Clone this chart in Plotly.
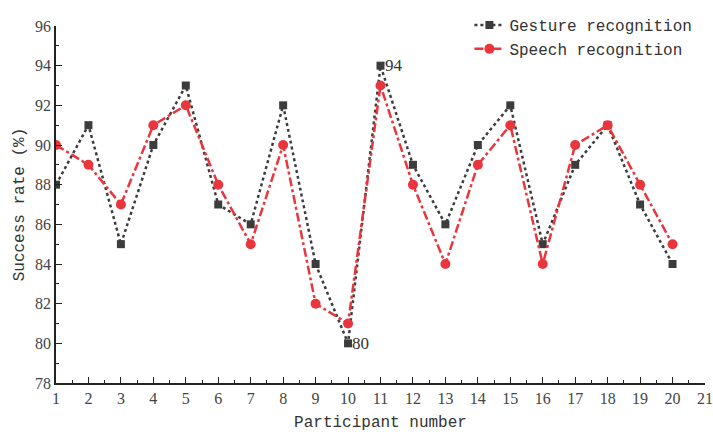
import plotly.graph_objects as go

participants = list(range(1, 21))
gesture = [88, 91, 85, 90, 93, 87, 86, 92, 84, 80, 94, 89, 86, 90, 92, 85, 89, 91, 87, 84]
speech = [90, 89, 87, 91, 92, 88, 85, 90, 82, 81, 93, 88, 84, 89, 91, 84, 90, 91, 88, 85]

fig = go.Figure()
fig.add_trace(go.Scatter(x=participants, y=gesture, name="Gesture recognition",
                         mode="lines+markers",
                         line=dict(color="#3c3c3c", width=2.5, dash="dot"),
                         marker=dict(symbol="square", size=8, color="#3c3c3c")))
fig.add_trace(go.Scatter(x=participants, y=speech, name="Speech recognition",
                         mode="lines+markers",
                         line=dict(color="#e8363c", width=2.5, dash="dashdot"),
                         marker=dict(symbol="circle", size=10, color="#e8363c")))

fig.add_annotation(x=11, y=94, text="94", showarrow=False, xanchor="left", xshift=2,
                   font=dict(family="Liberation Serif", size=17, color="#333"))
fig.add_annotation(x=10, y=80, text="80", showarrow=False, xanchor="left", xshift=2,
                   font=dict(family="Liberation Serif", size=17, color="#333"))

axis_common = dict(showline=True, linecolor="#222", linewidth=1.5, ticks="inside",
                   tickcolor="#222", ticklen=6, showgrid=False, zeroline=False,
                   automargin=False,
                   tickfont=dict(family="Liberation Serif", size=16, color="#444"))
fig.update_xaxes(range=[1, 21], dtick=1, tick0=1,
                 minor=dict(ticks="inside", dtick=0.5, ticklen=3, tickcolor="#222"),
                 title=dict(text="Participant number", standoff=10,
                            font=dict(family="Liberation Mono", size=16, color="#333")),
                 **axis_common)
fig.update_yaxes(range=[78, 96], dtick=2, tick0=78,
                 minor=dict(ticks="inside", dtick=1, ticklen=3, tickcolor="#222"),
                 title=dict(text="Success rate (%)", standoff=6,
                            font=dict(family="Liberation Mono", size=16, color="#333")),
                 **axis_common)

fig.update_layout(width=713, height=432, margin=dict(l=56, r=8, t=24, b=49),
                  plot_bgcolor="white", paper_bgcolor="white",
                  showlegend=True,
                  legend=dict(x=0.637, y=1.05, xanchor="left", yanchor="top",
                              bgcolor="rgba(0,0,0,0)", tracegroupgap=0,
                              font=dict(family="Liberation Mono", size=16, color="#333"),
                              itemwidth=30))
fig.write_html("out.html")
